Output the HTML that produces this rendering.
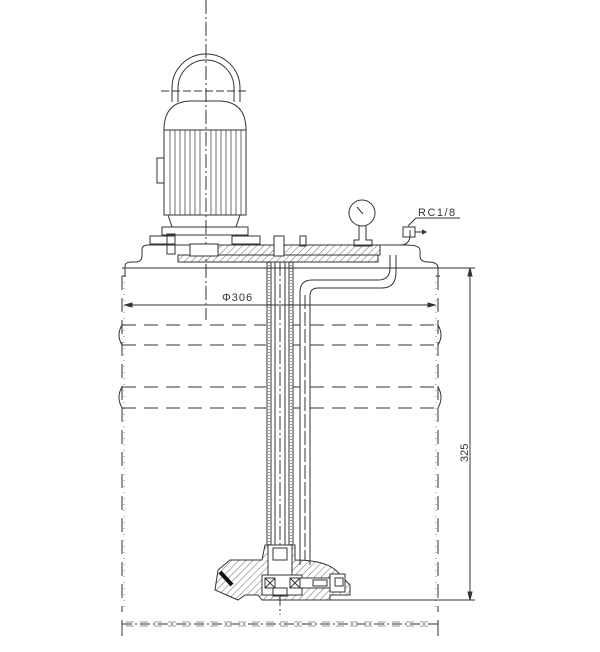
<!DOCTYPE html>
<html><head><meta charset="utf-8"><style>html,body{margin:0;padding:0;background:#fff}svg{display:block}</style></head><body>
<svg width="600" height="652" viewBox="0 0 600 652" xmlns="http://www.w3.org/2000/svg" fill="none" stroke="#333" stroke-width="1">
<defs>
<pattern id="h" width="5" height="5" patternUnits="userSpaceOnUse" patternTransform="rotate(45)"><line x1="0" y1="0" x2="0" y2="5" stroke="#444" stroke-width="0.8"/></pattern>
</defs>
<!-- center line -->
<line x1="206" y1="0" x2="206" y2="320" stroke-dasharray="14,3,2,3"/>
<!-- lifting eye -->
<path d="M172 102 V88 A34 34 0 0 1 240 88 V102"/>
<path d="M178 102 V88 A28 28 0 0 1 234 88 V102"/>
<line x1="161" y1="91" x2="249" y2="91" stroke-dasharray="8,3"/>
<!-- motor -->
<path d="M164 130 Q164 102 190 101 H220 Q246 102 246 130 Z"/>
<rect x="164" y="130" width="82" height="85"/>
<g stroke-width="0.7">
<line x1="170" y1="130" x2="170" y2="215"/><line x1="175" y1="130" x2="175" y2="215"/><line x1="180" y1="130" x2="180" y2="215"/><line x1="185" y1="130" x2="185" y2="215"/><line x1="190" y1="130" x2="190" y2="215"/><line x1="195" y1="130" x2="195" y2="215"/><line x1="200" y1="130" x2="200" y2="215"/><line x1="211" y1="130" x2="211" y2="215"/><line x1="216" y1="130" x2="216" y2="215"/><line x1="221" y1="130" x2="221" y2="215"/><line x1="226" y1="130" x2="226" y2="215"/><line x1="231" y1="130" x2="231" y2="215"/><line x1="236" y1="130" x2="236" y2="215"/><line x1="241" y1="130" x2="241" y2="215"/>
</g>
<rect x="157" y="158" width="7" height="25"/>
<path d="M168 215 L172 227 H236 L240 215"/>
<rect x="162" y="227" width="86" height="8"/>
<!-- lid -->
<path d="M125 276 V266 Q125 262 132 262 H136 Q142 262 142 255 V250 Q142 245 148 245 H405 Q420 245 420 250 V256 Q420 262 428 262 Q438 262 438 268 V276"/>
<path d="M122 268 H440"/>
<line x1="122" y1="276" x2="126" y2="276"/><line x1="436" y1="276" x2="440" y2="276"/>
<rect x="150" y="236" width="25" height="8"/>
<rect x="232" y="236" width="28" height="8"/>
<rect x="167" y="234" width="8" height="20"/>
<rect x="300" y="236" width="6" height="10"/>
<rect x="190" y="245" width="190" height="10" fill="url(#h)"/>
<rect x="178" y="255" width="200" height="7" fill="url(#h)"/>
<rect x="190" y="244" width="28" height="12" fill="#fff"/>
<rect x="274" y="236" width="10" height="20" fill="#fff"/>
<!-- gauge -->
<circle cx="362" cy="213" r="13"/>
<line x1="357" y1="207" x2="363" y2="214"/>
<path d="M359 226 V240 H354 V246 H372 V240 H366 V226"/>
<path d="M366 245 H400 Q410 245 410 235 V230"/>
<rect x="403" y="227" width="12" height="10"/>
<path d="M415 232 H425" /><path d="M422 230 L426 232 L422 234" fill="#333"/>
<text x="418" y="216" font-family="Liberation Sans, sans-serif" font-size="11" fill="#333" stroke="none" letter-spacing="1.5">RC1/8</text>
<path d="M408 226 L416 218 H460"/>
<!-- discharge pipe -->
<path d="M300 565 V292 Q300 280 312 280 H378 Q390 280 390 268 V255"/>
<path d="M310 565 V296 Q310 288 318 288 H382 Q396 288 396 272 V255"/>
<line x1="305" y1="295" x2="305" y2="560" stroke-dasharray="14,3"/>
<!-- shaft tubes -->
<line x1="267" y1="262" x2="267" y2="545"/><line x1="271" y1="262" x2="271" y2="545"/>
<line x1="289" y1="262" x2="289" y2="545"/><line x1="293" y1="262" x2="293" y2="545"/>
<line x1="269" y1="262" x2="269" y2="545" stroke-dasharray="1,2"/><line x1="291" y1="262" x2="291" y2="545" stroke-dasharray="1,2"/>
<line x1="275" y1="262" x2="275" y2="545"/><line x1="285" y1="262" x2="285" y2="545"/>
<line x1="280" y1="262" x2="280" y2="615" stroke-dasharray="14,3,2,3"/>
<!-- drum sides -->
<line x1="122" y1="276" x2="122" y2="612" stroke-dasharray="14,8"/>
<line x1="438" y1="276" x2="438" y2="612" stroke-dasharray="14,8"/>
<line x1="124" y1="276" x2="124" y2="612" stroke-dasharray="1,5" stroke-width="0.6"/>
<line x1="436" y1="276" x2="436" y2="612" stroke-dasharray="1,5" stroke-width="0.6"/>
<!-- corrugations -->
<g stroke-dasharray="14,8">
<line x1="122" y1="325" x2="266" y2="325"/><line x1="310" y1="325" x2="440" y2="325"/>
<line x1="122" y1="345" x2="266" y2="345"/><line x1="310" y1="345" x2="440" y2="345"/>
<line x1="122" y1="387" x2="266" y2="387"/><line x1="310" y1="387" x2="440" y2="387"/>
<line x1="122" y1="408" x2="266" y2="408"/><line x1="310" y1="408" x2="440" y2="408"/>
</g>
<line x1="293" y1="325" x2="300" y2="325"/><line x1="293" y1="345" x2="300" y2="345"/><line x1="293" y1="387" x2="300" y2="387"/><line x1="293" y1="408" x2="300" y2="408"/>
<path d="M122 325 Q116 335 122 345"/><path d="M438 325 Q444 335 438 345"/>
<path d="M122 387 Q116 397 122 408"/><path d="M438 387 Q444 397 438 408"/>
<!-- phi 306 -->
<line x1="125" y1="305" x2="435" y2="305"/>
<path d="M125 305 L132 303 V307 Z M435 305 L428 303 V307 Z" fill="#333"/>
<text x="222" y="301" font-family="Liberation Sans, sans-serif" font-size="11" fill="#333" stroke="none" letter-spacing="1">Φ306</text>
<!-- pump body -->
<path d="M265 545 H295 V560 Q330 560 340 575 L350 585 V595 H330 V600 H262 L258 595 H245 L238 600 L215 590 L218 570 L230 560 H262 Z" fill="url(#h)"/>
<rect x="268" y="545" width="24" height="40" fill="#fff"/>
<rect x="262" y="575" width="40" height="20" fill="#fff"/>
<rect x="265" y="578" width="10" height="10"/><line x1="265" y1="578" x2="275" y2="588"/><line x1="275" y1="578" x2="265" y2="588"/>
<rect x="290" y="578" width="10" height="10"/><line x1="290" y1="578" x2="300" y2="588"/><line x1="300" y1="578" x2="290" y2="588"/>
<rect x="300" y="578" width="30" height="10" fill="#fff"/>
<rect x="313" y="580" width="14" height="6"/>
<rect x="330" y="574" width="15" height="18" fill="#fff"/>
<rect x="335" y="578" width="8" height="8"/>
<rect x="273" y="548" width="14" height="12"/>
<rect x="273" y="588" width="14" height="8"/>
<path d="M220 572 L232 585" stroke="#111" stroke-width="4"/>
<!-- bottom base -->
<line x1="122" y1="624" x2="438" y2="624" stroke-dasharray="10,3,2,3"/>
<line x1="122" y1="620" x2="122" y2="636"/><line x1="438" y1="620" x2="438" y2="636"/>
<line x1="126" y1="622" x2="434" y2="622" stroke-dasharray="8,6" stroke-width="0.6"/>
<line x1="126" y1="626" x2="434" y2="626" stroke-dasharray="8,6" stroke-width="0.6"/>
<!-- dim 325 -->
<line x1="440" y1="268" x2="475" y2="268"/>
<line x1="300" y1="600" x2="475" y2="600"/>
<line x1="470" y1="268" x2="470" y2="600"/>
<path d="M470 268 L468 276 H472 Z M470 600 L468 592 H472 Z" fill="#333"/>
<text transform="translate(468,462) rotate(-90)" font-family="Liberation Sans, sans-serif" font-size="11" fill="#333" stroke="none">325</text>
</svg>
</body></html>
